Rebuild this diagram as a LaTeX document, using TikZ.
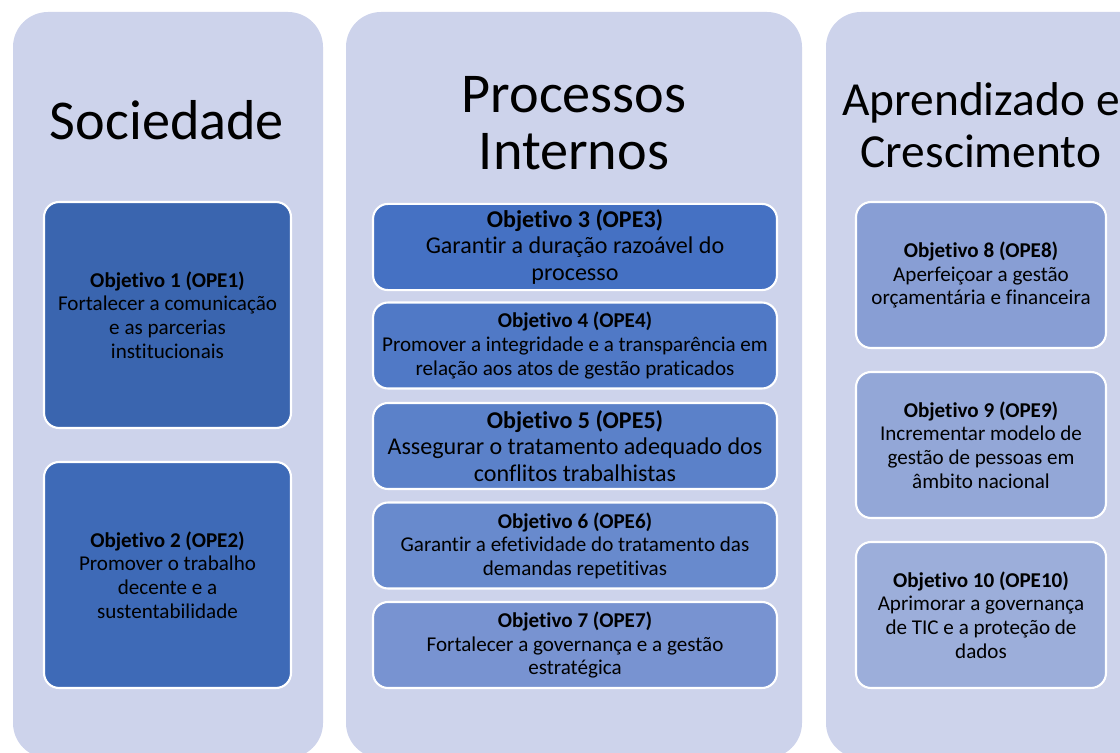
\documentclass[tikz,border=0pt]{standalone}
\usepackage{fontspec}
\setmainfont{Carlito}[Ligatures=NoCommon]

\definecolor{panelbg}{HTML}{CDD3EB}
\definecolor{opeA}{HTML}{3A65AF}
\definecolor{opeB}{HTML}{3E6AB7}
\definecolor{opeC}{HTML}{4571C3}
\definecolor{opeD}{HTML}{5079C6}
\definecolor{opeE}{HTML}{5B81C9}
\definecolor{opeF}{HTML}{688ACD}
\definecolor{opeG}{HTML}{7893D1}
\definecolor{opeH}{HTML}{889ED4}
\definecolor{opeI}{HTML}{93A7D7}
\definecolor{opeJ}{HTML}{9CAEDA}

\begin{document}
\begin{tikzpicture}[x=0.02cm, y=-0.02cm,
        panel/.style={fill=panelbg, rounded corners=0.7cm},
        title/.style={anchor=base, align=center, font=\fontsize{32}{33}\selectfont},
        goal/.style={draw=white, line width=1.2pt, rounded corners=0.3cm, align=center,
            text=black, font=\fontsize{12}{13.4}\selectfont},
        bigtext/.style={font=\fontsize{13.7}{15}\selectfont},
        leftgoal/.style={goal, minimum width=4.94cm, minimum height=4.52cm},
        midgoal/.style={goal, minimum width=8.08cm, minimum height=1.72cm},
        rightgoal/.style={goal, minimum width=5cm, minimum height=2.92cm}]

        \useasboundingbox (0, 0) rectangle (1120, 753);

        \fill [panel] (13, 12) rectangle (323, 758);
        \fill [panel] (346, 12) rectangle (802, 758);
        \fill [panel] (826, 12) rectangle (1170, 758);

        \node [title] (soc) at (167, 140) {Sociedade};
        \node [title] (proc) at (574, 170) {Processos\\Internos};
        \node [title, font=\fontsize{27}{30}\selectfont] (apr) at (981, 168) {Aprendizado e\\Crescimento};

        \node [leftgoal, fill=opeA] (ope1) at (167.5, 315) {\textbf{Objetivo 1 (OPE1)}\\Fortalecer a comunicação\\e as parcerias\\institucionais};
        \node [leftgoal, fill=opeB] (ope2) at (167.5, 575) {\textbf{Objetivo 2 (OPE2)}\\Promover o trabalho\\decente e a\\sustentabilidade};

        \node [midgoal, bigtext, fill=opeC] (ope3) at (575, 247) {\textbf{Objetivo 3 (OPE3)}\\Garantir a duração razoável do\\processo};
        \node [midgoal, fill=opeD] (ope4) at (575, 345.5) {\textbf{Objetivo 4 (OPE4)}\\Promover a integridade e a transparência em\\relação aos atos de gestão praticados};
        \node [midgoal, bigtext, fill=opeE] (ope5) at (575, 446) {\textbf{Objetivo 5 (OPE5)}\\Assegurar o tratamento adequado dos\\conflitos trabalhistas};
        \node [midgoal, fill=opeF] (ope6) at (575, 545.5) {\textbf{Objetivo 6 (OPE6)}\\Garantir a efetividade do tratamento das\\demandas repetitivas};
        \node [midgoal, fill=opeG] (ope7) at (575, 645) {\textbf{Objetivo 7 (OPE7)}\\Fortalecer a governança e a gestão\\estratégica};

        \node [rightgoal, fill=opeH] (ope8) at (981, 275) {\textbf{Objetivo 8 (OPE8)}\\Aperfeiçoar a gestão\\orçamentária e financeira};
        \node [rightgoal, fill=opeI] (ope9) at (981, 445) {\textbf{Objetivo 9 (OPE9)}\\Incrementar modelo de\\gestão de pessoas em\\âmbito nacional};
        \node [rightgoal, fill=opeJ] (ope10) at (981, 615) {\textbf{Objetivo 10 (OPE10)}\\Aprimorar a governança\\de TIC e a proteção de\\dados};

    \end{tikzpicture}
\end{document}
